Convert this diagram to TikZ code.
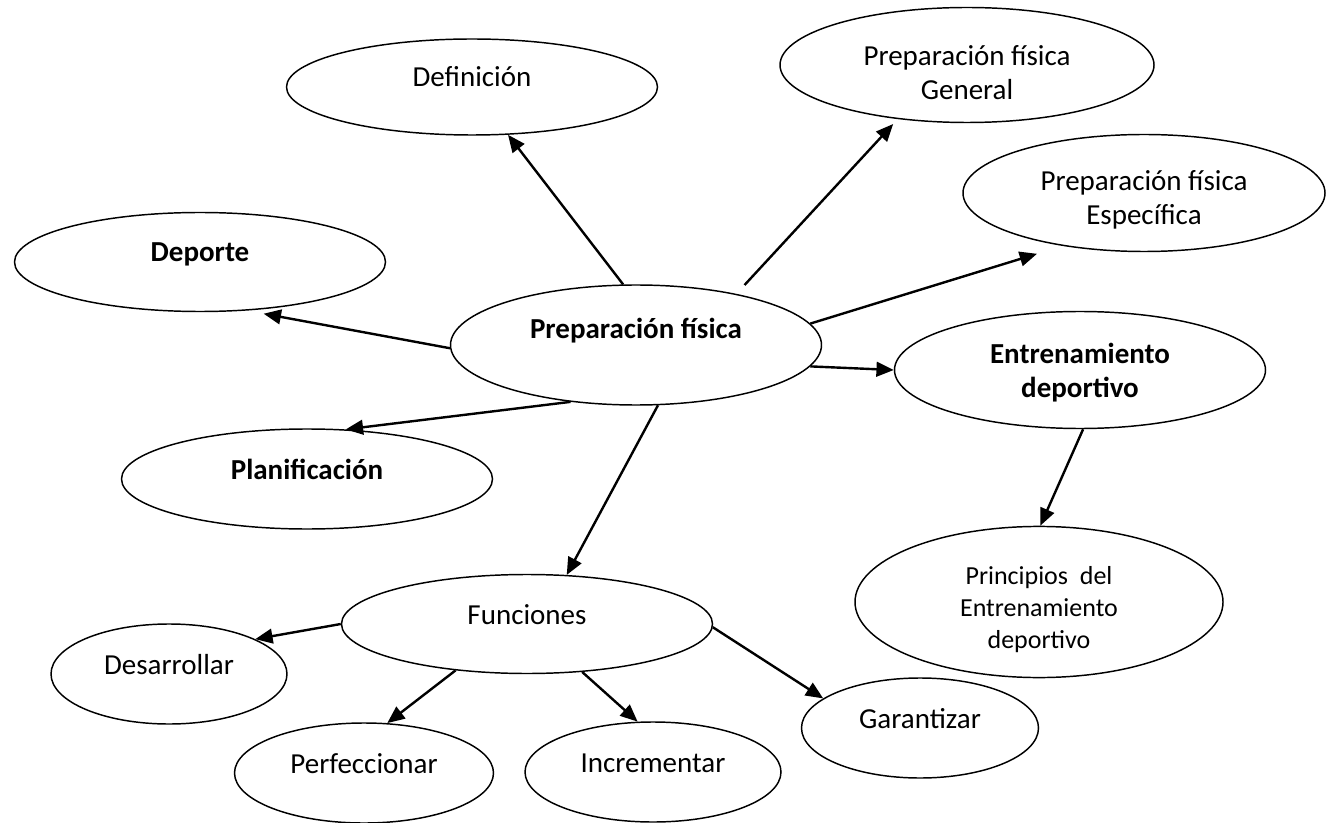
\documentclass[tikz,border=0pt]{standalone}
\usepackage{fontspec}
\setmainfont{Carlito}
\usepackage{tikz}
\usetikzlibrary{positioning, arrows.meta, shapes.geometric}

\begin{document}
\begin{tikzpicture}[
      x = 0.75pt, y = -0.75pt,
      idea/.style    = {ellipse, draw, line width=1.1pt, inner sep=2pt, align=center,
                        font=\fontsize{21.75pt}{25.5pt}\selectfont},
      heavy/.style   = {font=\fontsize{21.75pt}{25.5pt}\selectfont\bfseries},
      oneline/.style = {text height=11pt, text depth=11pt},
      big/.style     = {minimum width=278.25pt, minimum height=#1},
      small/.style   = {minimum width=#1, minimum height=75pt},
      link/.style    = {-{Triangle[length=13pt, width=11pt]}, line width=1.8pt}
    ]
    \useasboundingbox (0,0) rectangle (1327,823);

    % centre
    \node[idea, heavy, big=90pt, text height=8pt, text depth=17pt] (prep) at (636,345) {Preparación física};

    % first ring
    \node[idea, big=72pt, oneline] (def) at (472,87) {Definición};
    \node[idea, big=86.25pt, minimum width=280.5pt] (gen) at (967,65)
      {\rule{0pt}{27pt}Preparación física\\General};
    \node[idea, big=87.75pt, minimum width=271.5pt] (esp) at (1144,193)
      {\rule{0pt}{26pt}Preparación física\\Específica};
    \node[idea, heavy, big=74.25pt, oneline] (dep) at (200,262) {Deporte};
    \node[idea, heavy, big=87.75pt] (ent) at (1080,370) {\rule{0pt}{19pt}Entrenamiento\\deportivo};
    \node[idea, heavy, big=75pt, oneline] (plan) at (307,479) {Planificación};
    \node[idea, big=74.25pt, oneline] (fun) at (527,624) {Funciones};
    \node[idea, big=112.5pt, minimum width=276pt, font=\fontsize{19.5pt}{24pt}\selectfont]
      (prin) at (1039,602) {\rule{0pt}{25pt}Principios\ \ del\\Entrenamiento\\deportivo};

    % functions
    \node[idea, small=177pt, oneline] (des) at (169,674) {Desarrollar};
    \node[idea, small=194.25pt, oneline] (per) at (364,773) {Perfeccionar};
    \node[idea, small=192pt, oneline] (inc) at (653,772) {Incrementar};
    \node[idea, small=177.75pt, oneline] (gar) at (920,728) {Garantizar};

    \draw[link] (prep.102) -- (def.-53);
    \draw[link, shorten <=9pt, shorten >=5pt] (prep.27.6) -- (gen.-142);
    \draw[link, shorten >=20pt] (prep.7.3) -- (esp.-147);
    \draw[link, shorten >=12.75pt] (prep.181) -- (dep.-46);
    \draw[link] (prep.-139) -- (plan.52);
    \draw[link] (prep.-7.7) -- (ent.180);
    \draw[link] (prep.-70) -- (fun.51);
    \draw[link] (ent.-87) -- (prin.89);
    \draw[link] (fun.180) -- (des.22);
    \draw[link] (fun.-147) -- (per.65);
    \draw[link] (fun.-41) -- (inc.107);
    \draw[link] (fun.-1) -- (gar.163);
  \end{tikzpicture}
\end{document}
